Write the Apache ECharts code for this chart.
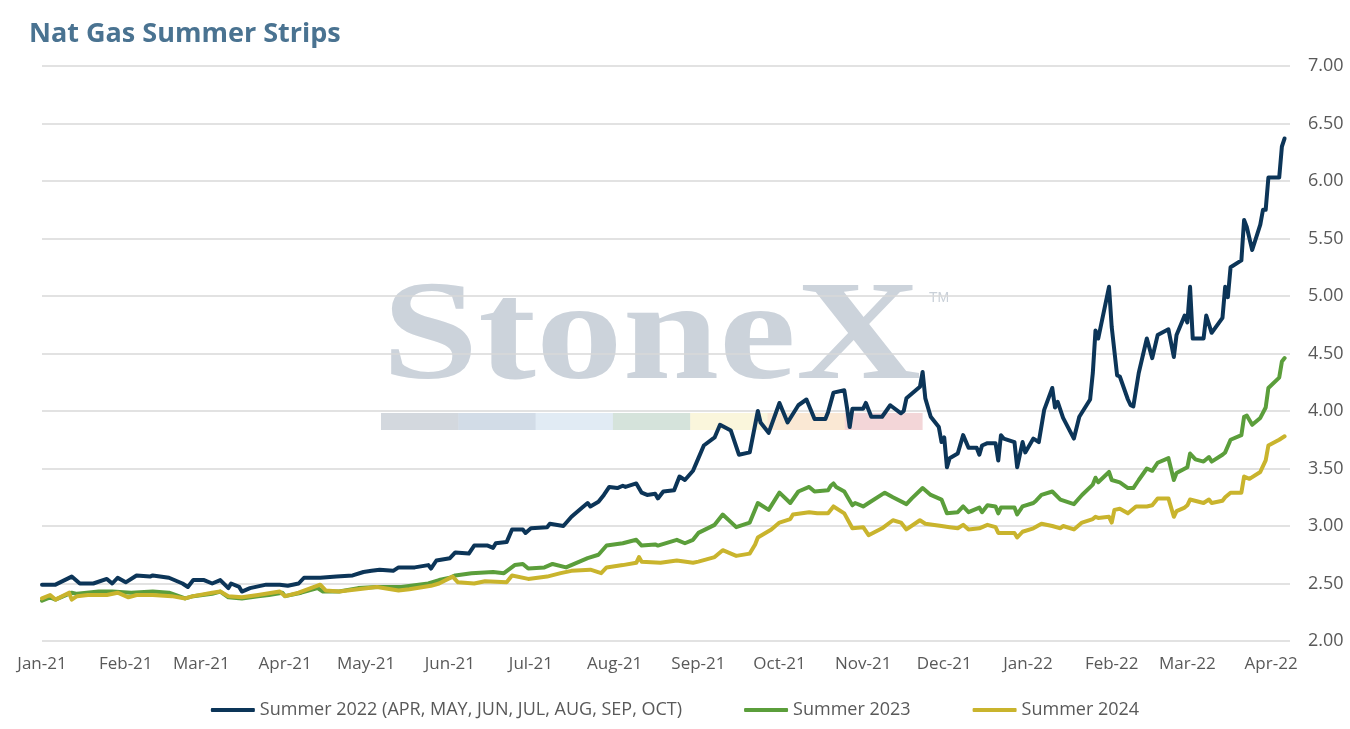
<!DOCTYPE html>
<html>
<head>
<meta charset="utf-8">
<title>Nat Gas Summer Strips</title>
<script src="https://cdn.jsdelivr.net/npm/echarts@6/dist/echarts.min.js"></script>
<style>
    html, body {margin: 0; padding: 0; background: #ffffff;}
    #chart {width: 1350px; height: 729px;}
</style>
</head>
<body>
<div id="chart"></div>
<script>
// month ticks on the x axis
const monthStarts = ['2021-01-01', '2021-02-01', '2021-03-01', '2021-04-01', '2021-05-01', '2021-06-01',
    '2021-07-01', '2021-08-01', '2021-09-01', '2021-10-01', '2021-11-01', '2021-12-01',
    '2022-01-01', '2022-02-01', '2022-03-01', '2022-04-01'];
const monthLabels = ['Jan-21', 'Feb-21', 'Mar-21', 'Apr-21', 'May-21', 'Jun-21', 'Jul-21', 'Aug-21',
    'Sep-21', 'Oct-21', 'Nov-21', 'Dec-21', 'Jan-22', 'Feb-22', 'Mar-22', 'Apr-22'];

const seriesNames = ['Summer 2022 (APR, MAY, JUN, JUL, AUG, SEP, OCT)', 'Summer 2023', 'Summer 2024'];

// Summer 2022 strip
const summer2022 = [
    ['2021-01-01', 2.49], ['2021-01-06', 2.49], ['2021-01-12', 2.56], ['2021-01-15', 2.50], ['2021-01-20', 2.50],
    ['2021-01-25', 2.54], ['2021-01-27', 2.50], ['2021-01-29', 2.55], ['2021-02-01', 2.51], ['2021-02-05', 2.57],
    ['2021-02-10', 2.56], ['2021-02-11', 2.57], ['2021-02-17', 2.55], ['2021-02-22', 2.50], ['2021-02-24', 2.47],
    ['2021-02-26', 2.53], ['2021-03-02', 2.53], ['2021-03-05', 2.50], ['2021-03-08', 2.53], ['2021-03-11', 2.46],
    ['2021-03-12', 2.50], ['2021-03-15', 2.47], ['2021-03-16', 2.43], ['2021-03-19', 2.46], ['2021-03-25', 2.49],
    ['2021-03-30', 2.49], ['2021-04-02', 2.48], ['2021-04-06', 2.50], ['2021-04-08', 2.55], ['2021-04-14', 2.55],
    ['2021-04-20', 2.56], ['2021-04-26', 2.57], ['2021-04-30', 2.60], ['2021-05-03', 2.61], ['2021-05-06', 2.62],
    ['2021-05-11', 2.61], ['2021-05-13', 2.64], ['2021-05-19', 2.64], ['2021-05-24', 2.66], ['2021-05-25', 2.63],
    ['2021-05-27', 2.70], ['2021-06-01', 2.72], ['2021-06-03', 2.77], ['2021-06-08', 2.76], ['2021-06-10', 2.83],
    ['2021-06-15', 2.83], ['2021-06-17', 2.81], ['2021-06-18', 2.85], ['2021-06-22', 2.86], ['2021-06-24', 2.97],
    ['2021-06-28', 2.97], ['2021-06-29', 2.94], ['2021-07-01', 2.98], ['2021-07-07', 2.99], ['2021-07-08', 3.02],
    ['2021-07-13', 3.00], ['2021-07-16', 3.08], ['2021-07-20', 3.16], ['2021-07-22', 3.20], ['2021-07-23', 3.17],
    ['2021-07-26', 3.21], ['2021-07-28', 3.27], ['2021-07-30', 3.34], ['2021-08-02', 3.33], ['2021-08-04', 3.35],
    ['2021-08-05', 3.34], ['2021-08-09', 3.37], ['2021-08-11', 3.29], ['2021-08-13', 3.27], ['2021-08-16', 3.28],
    ['2021-08-17', 3.24], ['2021-08-19', 3.30], ['2021-08-23', 3.31], ['2021-08-25', 3.43], ['2021-08-27', 3.40],
    ['2021-08-30', 3.48], ['2021-09-01', 3.59], ['2021-09-03', 3.70], ['2021-09-07', 3.77], ['2021-09-09', 3.88],
    ['2021-09-13', 3.83], ['2021-09-16', 3.62], ['2021-09-20', 3.64], ['2021-09-23', 4.00], ['2021-09-24', 3.90],
    ['2021-09-27', 3.81], ['2021-10-01', 4.07], ['2021-10-04', 3.90], ['2021-10-08', 4.05], ['2021-10-11', 4.10],
    ['2021-10-14', 3.93], ['2021-10-18', 3.93], ['2021-10-19', 3.99], ['2021-10-21', 4.16], ['2021-10-25', 4.18],
    ['2021-10-26', 4.03], ['2021-10-27', 3.86], ['2021-10-28', 4.02], ['2021-11-01', 4.02], ['2021-11-02', 4.07],
    ['2021-11-04', 3.95], ['2021-11-08', 3.95], ['2021-11-11', 4.05], ['2021-11-15', 3.98], ['2021-11-16', 4.00],
    ['2021-11-17', 4.11], ['2021-11-22', 4.21], ['2021-11-23', 4.34], ['2021-11-24', 4.11], ['2021-11-26', 3.95],
    ['2021-11-29', 3.86], ['2021-11-30', 3.73], ['2021-12-01', 3.77], ['2021-12-02', 3.51], ['2021-12-03', 3.59],
    ['2021-12-06', 3.63], ['2021-12-08', 3.79], ['2021-12-10', 3.68], ['2021-12-13', 3.68], ['2021-12-14', 3.62],
    ['2021-12-15', 3.70], ['2021-12-17', 3.72], ['2021-12-20', 3.72], ['2021-12-21', 3.57], ['2021-12-22', 3.79],
    ['2021-12-23', 3.76], ['2021-12-27', 3.73], ['2021-12-28', 3.51], ['2021-12-30', 3.73], ['2021-12-31', 3.64],
    ['2022-01-03', 3.76], ['2022-01-05', 3.73], ['2022-01-07', 4.01], ['2022-01-10', 4.20], ['2022-01-11', 4.03],
    ['2022-01-12', 4.08], ['2022-01-14', 3.94], ['2022-01-18', 3.76], ['2022-01-20', 3.95], ['2022-01-24', 4.10],
    ['2022-01-25', 4.33], ['2022-01-26', 4.70], ['2022-01-27', 4.63], ['2022-01-31', 5.08], ['2022-02-01', 4.73],
    ['2022-02-03', 4.31], ['2022-02-04', 4.30], ['2022-02-07', 4.10], ['2022-02-08', 4.05], ['2022-02-09', 4.04],
    ['2022-02-11', 4.33], ['2022-02-14', 4.63], ['2022-02-16', 4.46], ['2022-02-18', 4.66], ['2022-02-22', 4.71],
    ['2022-02-24', 4.47], ['2022-02-25', 4.66], ['2022-02-28', 4.83], ['2022-03-01', 4.77], ['2022-03-02', 5.08],
    ['2022-03-03', 4.63], ['2022-03-07', 4.63], ['2022-03-08', 4.83], ['2022-03-10', 4.68], ['2022-03-14', 4.81],
    ['2022-03-15', 5.08], ['2022-03-16', 4.99], ['2022-03-17', 5.25], ['2022-03-21', 5.31], ['2022-03-22', 5.66],
    ['2022-03-23', 5.60], ['2022-03-25', 5.40], ['2022-03-28', 5.62], ['2022-03-29', 5.75], ['2022-03-30', 5.75],
    ['2022-03-31', 6.03], ['2022-04-04', 6.03], ['2022-04-05', 6.30], ['2022-04-06', 6.37]
];

// Summer 2023 strip
const summer2023 = [
    ['2021-01-01', 2.35], ['2021-01-04', 2.38], ['2021-01-06', 2.36], ['2021-01-12', 2.42], ['2021-01-14', 2.41],
    ['2021-01-22', 2.43], ['2021-01-27', 2.43], ['2021-02-03', 2.42], ['2021-02-11', 2.43], ['2021-02-17', 2.42],
    ['2021-02-23', 2.37], ['2021-02-26', 2.39], ['2021-03-05', 2.41], ['2021-03-08', 2.43], ['2021-03-11', 2.38],
    ['2021-03-16', 2.37], ['2021-03-22', 2.39], ['2021-03-26', 2.40], ['2021-03-31', 2.42], ['2021-04-01', 2.39],
    ['2021-04-07', 2.42], ['2021-04-13', 2.46], ['2021-04-15', 2.43], ['2021-04-21', 2.43], ['2021-04-28', 2.46],
    ['2021-05-05', 2.47], ['2021-05-14', 2.47], ['2021-05-24', 2.50], ['2021-05-28', 2.53], ['2021-06-01', 2.55],
    ['2021-06-03', 2.57], ['2021-06-09', 2.59], ['2021-06-17', 2.60], ['2021-06-21', 2.59], ['2021-06-25', 2.66],
    ['2021-06-28', 2.67], ['2021-06-30', 2.63], ['2021-07-06', 2.64], ['2021-07-09', 2.67], ['2021-07-14', 2.64],
    ['2021-07-22', 2.72], ['2021-07-26', 2.75], ['2021-07-29', 2.83], ['2021-08-04', 2.85], ['2021-08-09', 2.88],
    ['2021-08-11', 2.83], ['2021-08-16', 2.84], ['2021-08-17', 2.83], ['2021-08-24', 2.88], ['2021-08-27', 2.85],
    ['2021-08-30', 2.88], ['2021-09-01', 2.94], ['2021-09-07', 3.01], ['2021-09-10', 3.10], ['2021-09-15', 2.99],
    ['2021-09-20', 3.03], ['2021-09-23', 3.20], ['2021-09-27', 3.14], ['2021-10-01', 3.29], ['2021-10-05', 3.20],
    ['2021-10-08', 3.30], ['2021-10-12', 3.34], ['2021-10-14', 3.30], ['2021-10-19', 3.31], ['2021-10-20', 3.35],
    ['2021-10-21', 3.37], ['2021-10-22', 3.34], ['2021-10-25', 3.30], ['2021-10-28', 3.18], ['2021-10-29', 3.20],
    ['2021-11-01', 3.17], ['2021-11-03', 3.20], ['2021-11-09', 3.29], ['2021-11-12', 3.25], ['2021-11-17', 3.19],
    ['2021-11-19', 3.24], ['2021-11-23', 3.33], ['2021-11-26', 3.27], ['2021-11-30', 3.23], ['2021-12-02', 3.11],
    ['2021-12-06', 3.12], ['2021-12-08', 3.17], ['2021-12-10', 3.12], ['2021-12-14', 3.16], ['2021-12-15', 3.12],
    ['2021-12-17', 3.18], ['2021-12-20', 3.17], ['2021-12-21', 3.11], ['2021-12-22', 3.16], ['2021-12-27', 3.16],
    ['2021-12-28', 3.10], ['2021-12-30', 3.17], ['2022-01-03', 3.20], ['2022-01-04', 3.22], ['2022-01-06', 3.27],
    ['2022-01-10', 3.30], ['2022-01-13', 3.23], ['2022-01-18', 3.19], ['2022-01-21', 3.27], ['2022-01-25', 3.36],
    ['2022-01-26', 3.42], ['2022-01-27', 3.38], ['2022-01-31', 3.47], ['2022-02-01', 3.40], ['2022-02-04', 3.38],
    ['2022-02-07', 3.33], ['2022-02-09', 3.33], ['2022-02-11', 3.40], ['2022-02-14', 3.50], ['2022-02-16', 3.48],
    ['2022-02-18', 3.55], ['2022-02-22', 3.59], ['2022-02-24', 3.40], ['2022-02-25', 3.46], ['2022-03-01', 3.51],
    ['2022-03-02', 3.63], ['2022-03-04', 3.58], ['2022-03-07', 3.56], ['2022-03-09', 3.60], ['2022-03-10', 3.56],
    ['2022-03-14', 3.62], ['2022-03-15', 3.64], ['2022-03-17', 3.75], ['2022-03-21', 3.79], ['2022-03-22', 3.95],
    ['2022-03-23', 3.96], ['2022-03-25', 3.88], ['2022-03-28', 3.94], ['2022-03-30', 4.03], ['2022-03-31', 4.20],
    ['2022-04-04', 4.29], ['2022-04-05', 4.43], ['2022-04-06', 4.46]
];

// Summer 2024 strip
const summer2024 = [
    ['2021-01-01', 2.37], ['2021-01-04', 2.40], ['2021-01-06', 2.36], ['2021-01-11', 2.42], ['2021-01-12', 2.36],
    ['2021-01-14', 2.39], ['2021-01-18', 2.40], ['2021-01-25', 2.40], ['2021-01-29', 2.42], ['2021-02-02', 2.38],
    ['2021-02-05', 2.40], ['2021-02-11', 2.40], ['2021-02-18', 2.39], ['2021-02-23', 2.37], ['2021-02-26', 2.39],
    ['2021-03-05', 2.42], ['2021-03-08', 2.43], ['2021-03-11', 2.39], ['2021-03-16', 2.38], ['2021-03-22', 2.40],
    ['2021-03-30', 2.43], ['2021-04-01', 2.39], ['2021-04-06', 2.42], ['2021-04-14', 2.49], ['2021-04-16', 2.44],
    ['2021-04-21', 2.43], ['2021-04-28', 2.45], ['2021-05-05', 2.47], ['2021-05-13', 2.44], ['2021-05-17', 2.45],
    ['2021-05-25', 2.48], ['2021-05-28', 2.50], ['2021-06-02', 2.56], ['2021-06-04', 2.51], ['2021-06-10', 2.50],
    ['2021-06-14', 2.52], ['2021-06-22', 2.51], ['2021-06-24', 2.57], ['2021-06-30', 2.54], ['2021-07-07', 2.56],
    ['2021-07-12', 2.59], ['2021-07-16', 2.61], ['2021-07-23', 2.62], ['2021-07-27', 2.59], ['2021-07-29', 2.64],
    ['2021-08-04', 2.66], ['2021-08-09', 2.68], ['2021-08-10', 2.73], ['2021-08-11', 2.69], ['2021-08-18', 2.68],
    ['2021-08-24', 2.70], ['2021-08-30', 2.68], ['2021-09-01', 2.69], ['2021-09-07', 2.73], ['2021-09-10', 2.79],
    ['2021-09-15', 2.74], ['2021-09-20', 2.76], ['2021-09-22', 2.84], ['2021-09-23', 2.90], ['2021-09-28', 2.97],
    ['2021-10-01', 3.03], ['2021-10-05', 3.06], ['2021-10-06', 3.10], ['2021-10-12', 3.12], ['2021-10-15', 3.11],
    ['2021-10-19', 3.11], ['2021-10-21', 3.17], ['2021-10-25', 3.11], ['2021-10-28', 2.98], ['2021-11-01', 2.99],
    ['2021-11-03', 2.92], ['2021-11-08', 2.98], ['2021-11-12', 3.05], ['2021-11-15', 3.03], ['2021-11-17', 2.97],
    ['2021-11-22', 3.05], ['2021-11-24', 3.02], ['2021-11-30', 3.00], ['2021-12-03', 2.99], ['2021-12-06', 2.98],
    ['2021-12-08', 3.01], ['2021-12-10', 2.97], ['2021-12-14', 2.98], ['2021-12-17', 3.01], ['2021-12-20', 2.99],
    ['2021-12-21', 2.94], ['2021-12-27', 2.94], ['2021-12-28', 2.90], ['2021-12-30', 2.95], ['2022-01-03', 2.98],
    ['2022-01-06', 3.02], ['2022-01-10', 3.00], ['2022-01-13', 2.98], ['2022-01-14', 3.00], ['2022-01-18', 2.97],
    ['2022-01-21', 3.03], ['2022-01-25', 3.06], ['2022-01-26', 3.08], ['2022-01-27', 3.07], ['2022-01-31', 3.08],
    ['2022-02-01', 3.03], ['2022-02-02', 3.14], ['2022-02-04', 3.15], ['2022-02-07', 3.11], ['2022-02-10', 3.17],
    ['2022-02-14', 3.17], ['2022-02-16', 3.18], ['2022-02-18', 3.24], ['2022-02-22', 3.24], ['2022-02-24', 3.08],
    ['2022-02-25', 3.13], ['2022-02-28', 3.16], ['2022-03-01', 3.18], ['2022-03-02', 3.23], ['2022-03-07', 3.20],
    ['2022-03-09', 3.23], ['2022-03-10', 3.20], ['2022-03-14', 3.22], ['2022-03-15', 3.25], ['2022-03-17', 3.29],
    ['2022-03-21', 3.29], ['2022-03-22', 3.43], ['2022-03-24', 3.41], ['2022-03-28', 3.47], ['2022-03-30', 3.57],
    ['2022-03-31', 3.70], ['2022-04-04', 3.75], ['2022-04-06', 3.78]
];

const colors = ['#0c3558', '#5b9e3b', '#c9b42d'];

function ts(s) {
    let p = s.split('-');
    return Date.UTC(+p[0], +p[1] - 1, +p[2]);
}

function to_points(rows) {
    return rows.map(r => [ts(r[0]), r[1]]);
}

function gen_line_series(name, rows, color) {
    return {
        name: name,
        type: 'line',
        data: to_points(rows),
        showSymbol: false,
        symbol: 'none',
        color: color,
        lineStyle: {width: 4, color: color, cap: 'round', join: 'round'},
        emphasis: {disabled: true},
    };
}

const tickValues = monthStarts.map(ts);
const labelFont = 'Open Sans';

// watermark colour strip
const stripColors = ['#d3d8de', '#d2dce7', '#e1ebf4', '#d5e3db', '#faf6dc', '#fae8d4', '#f3d6d8'];
let stripRects = stripColors.map((c, i) => ({
    type: 'rect',
    z: -1,
    silent: true,
    shape: {x: 381 + i * 77.3, y: 413, width: 77.8, height: 17},
    style: {fill: c},
}));

let chart = echarts.init(document.getElementById('chart'), null, {renderer: 'canvas'});

let option = {
    animation: false,
    backgroundColor: '#ffffff',
    title: {
        text: 'Nat Gas Summer Strips',
        left: 24,
        top: 16,
        textStyle: {
            color: '#4a7391',
            fontFamily: labelFont,
            fontWeight: 'bold',
            fontSize: 27,
        }
    },
    grid: {left: 42, right: 60, top: 66, bottom: 88, containLabel: false},
    legend: {
        bottom: 5,
        left: 'center',
        icon: 'roundRect',
        itemWidth: 44,
        itemHeight: 4,
        itemGap: 62,
        textStyle: {color: '#595959', fontFamily: labelFont, fontSize: 18},
        data: seriesNames,
    },
    xAxis: {
        type: 'value',
        min: ts('2021-01-01'),
        max: ts('2022-04-08'),
        axisLine: {show: false},
        axisTick: {show: false},
        splitLine: {show: false},
        axisLabel: {
            customValues: tickValues,
            margin: 15,
            color: '#595959',
            fontFamily: labelFont,
            fontSize: 17,
            showMinLabel: true,
            showMaxLabel: true,
            formatter: function (value) {
                let i = tickValues.indexOf(value);
                return i >= 0 ? monthLabels[i] : '';
            }
        }
    },
    yAxis: {
        type: 'value',
        position: 'right',
        min: 2,
        max: 7,
        interval: 0.5,
        axisLine: {show: false},
        axisTick: {show: false},
        splitLine: {lineStyle: {color: '#d9d9d9', width: 1.5}},
        axisLabel: {
            margin: 18,
            color: '#595959',
            fontFamily: labelFont,
            fontSize: 18,
            formatter: v => v.toFixed(2)
        }
    },
    graphic: [
        {
            type: 'text',
            z: -1,
            silent: true,
            x: 382,
            y: 270,
            scaleX: 1.22,
            style: {
                text: 'StoneX',
                fill: '#ccd3db',
                font: 'bold 142px "Liberation Serif"',
                textVerticalAlign: 'top',
            }
        },
        {
            type: 'text',
            z: -1,
            silent: true,
            x: 929,
            y: 291,
            style: {
                text: 'TM',
                fill: '#c9d0d8',
                font: '14px "Liberation Sans"',
            }
        },
    ].concat(stripRects),
    series: [
        gen_line_series(seriesNames[0], summer2022, colors[0]),
        gen_line_series(seriesNames[1], summer2023, colors[1]),
        gen_line_series(seriesNames[2], summer2024, colors[2]),
    ]
};

chart.setOption(option);
</script>
</body>
</html>
